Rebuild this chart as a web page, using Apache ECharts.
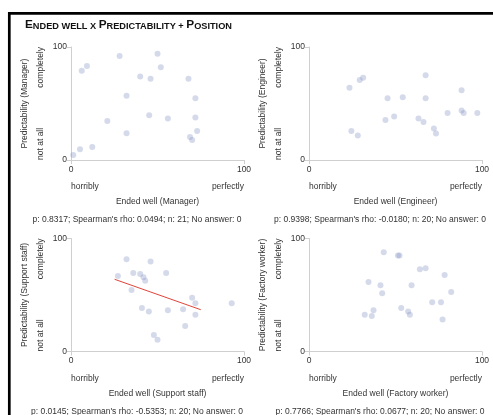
<!DOCTYPE html>
<html>
<head>
<meta charset="utf-8">
<script src="https://cdn.jsdelivr.net/npm/echarts@6/dist/echarts.min.js"></script>
<style>
html,body{margin:0;padding:0;background:#fff;}
#c{width:493px;height:415px;}
</style>
</head>
<body>
<div id="c"></div>
<script>
// ---- data ----
var positions = ['Manager', 'Engineer', 'Support staff', 'Factory worker'];
var statsText = [
  "p: 0.8317; Spearman's rho: 0.0494; n: 21; No answer: 0",
  "p: 0.9398; Spearman's rho: -0.0180; n: 20; No answer: 0",
  "p: 0.0145; Spearman's rho: -0.5353; n: 20; No answer: 0",
  "p: 0.7766; Spearman's rho: 0.0677; n: 20; No answer: 0"
];
var xTickValues = [0, 100];
var yTickValues = [0, 100];
var xLowLabel = 'horribly', xHighLabel = 'perfectly';
var yLowLabel = 'not at all', yHighLabel = 'completely';

var managerX = [1.3,5.2,12.3,6.2,9.2,28.1,32.1,21.0,32.1,40.0,46.0,50.0,51.9,45.2,56.0,67.9,71.9,71.9,72.9,68.8,70.0];
var managerY = [4.4,9.5,11.5,79.0,83.1,92.0,56.8,34.6,23.7,74.0,71.9,94.1,82.0,39.6,36.7,71.9,54.7,37.6,25.7,20.4,17.8];

var engineerX = [23.4,29.3,31.3,24.5,28.2,45.4,54.2,44.2,49.2,67.4,67.4,63.3,66.2,72.2,73.4,80.1,88.2,88.2,89.4,97.3];
var engineerY = [63.9,70.7,72.8,25.7,21.6,54.7,55.6,35.5,38.5,74.9,54.7,36.7,33.7,27.8,23.4,41.7,61.8,43.8,41.7,41.7];

var supportX = [27.1,32.1,36.0,35.0,40.0,41.9,42.9,46.0,55.0,41.0,45.0,56.0,47.9,50.0,64.8,70.0,71.9,71.9,66.0,92.9];
var supportY = [66.9,81.7,69.5,54.4,68.6,65.7,62.7,79.6,69.5,38.5,35.5,36.4,14.5,10.4,37.3,47.6,42.6,32.5,22.5,42.6];

var factoryX = [43.2,51.4,52.3,64.1,67.4,78.4,34.4,41.3,42.3,59.3,82.2,71.2,76.3,32.2,37.3,36.3,53.3,57.3,58.3,77.2];
var factoryY = [87.9,84.9,84.9,72.8,73.7,67.8,61.5,58.6,51.5,58.6,52.7,43.5,43.5,32.5,36.4,31.4,38.5,35.5,32.5,28.4];

// regression line for Support staff (endpoints)
var supportFitX = [25.2, 75.0];
var supportFitY = [63.9, 37.0];

// ---- layout ----
var FONT = 'Liberation Sans, Arial, Helvetica, sans-serif';
var FS = 8.5;
var TXT = '#333';
var AX = '#cfcfcf';
var panels = [
  {left: 71, top: 47, w: 173, h: 113, statsX: 137},
  {left: 309, top: 47, w: 173, h: 113, statsX: 380},
  {left: 71, top: 238.5, w: 173, h: 113, statsX: 137},
  {left: 309, top: 238.5, w: 173, h: 113, statsX: 380}
];
var xs = [managerX, engineerX, supportX, factoryX];
var ys = [managerY, engineerY, supportY, factoryY];

function zip(a, b) { return a.map(function (v, i) { return [v, b[i]]; }); }

var grids = [], xAxes = [], yAxes = [], series = [], graphics = [];
panels.forEach(function (p, i) {
  grids.push({left: p.left, top: p.top, width: p.w, height: p.h, containLabel: false});
  xAxes.push({
    type: 'value', gridIndex: i, min: xTickValues[0], max: xTickValues[1], interval: 100,
    axisLine: {show: true, lineStyle: {color: AX, width: 1}},
    axisTick: {show: true, length: 4, lineStyle: {color: AX}},
    axisLabel: {show: true, margin: 5, fontSize: FS, color: TXT, fontFamily: FONT},
    splitLine: {show: false}
  });
  yAxes.push({
    type: 'value', gridIndex: i, min: yTickValues[0], max: yTickValues[1], interval: 100,
    axisLine: {show: true, lineStyle: {color: AX, width: 1}},
    axisTick: {show: true, length: 4, lineStyle: {color: AX}},
    axisLabel: {show: true, margin: 4, fontSize: FS, color: TXT, fontFamily: FONT},
    splitLine: {show: false}
  });
  series.push({
    type: 'scatter', xAxisIndex: i, yAxisIndex: i, data: zip(xs[i], ys[i]),
    symbolSize: 6, itemStyle: {color: 'rgba(130,145,195,0.42)'}, silent: true
  });
  var bottom = p.top + p.h;
  var right = p.left + p.w;
  var tstyle = function (text, align, vAlign) {
    return {text: text, fontSize: FS, fontFamily: FONT, fill: TXT, align: align, verticalAlign: vAlign};
  };
  graphics.push({type: 'text', x: p.left, y: bottom + 27, style: tstyle(xLowLabel, 'left', 'middle')});
  graphics.push({type: 'text', x: right, y: bottom + 27, style: tstyle(xHighLabel, 'right', 'middle')});
  graphics.push({type: 'text', x: p.left + p.w / 2, y: bottom + 42, style: tstyle('Ended well (' + positions[i] + ')', 'center', 'middle')});
  graphics.push({type: 'text', x: p.statsX, y: bottom + 60, style: tstyle(statsText[i], 'center', 'middle')});
  graphics.push({type: 'text', x: p.left - 46, y: p.top + p.h / 2, rotation: Math.PI / 2,
    style: tstyle('Predictability (' + positions[i] + ')', 'center', 'middle')});
  graphics.push({type: 'text', x: p.left - 30, y: p.top, rotation: Math.PI / 2,
    style: tstyle(yHighLabel, 'right', 'middle')});
  graphics.push({type: 'text', x: p.left - 30, y: bottom, rotation: Math.PI / 2,
    style: tstyle(yLowLabel, 'left', 'middle')});
});

series.push({
  type: 'line', xAxisIndex: 2, yAxisIndex: 2, data: zip(supportFitX, supportFitY),
  showSymbol: false, symbol: 'none', lineStyle: {color: '#e0443a', width: 1}, silent: true, z: 1
});

// frame
graphics.push({type: 'rect', shape: {x: 9.3, y: 13.3, width: 700, height: 700},
  style: {fill: 'none', stroke: '#000', lineWidth: 2.7}, silent: true});
// title (small caps)
graphics.push({type: 'text', x: 25, y: 24, style: {
  text: '{a|E}{b|NDED WELL X }{a|P}{b|REDICTABILITY + }{a|P}{b|OSITION}',
  verticalAlign: 'middle', align: 'left',
  rich: {
    a: {fontSize: 11.8, fontWeight: 'bold', fontFamily: FONT, fill: '#111', verticalAlign: 'bottom', lineHeight: 13},
    b: {fontSize: 9.2, fontWeight: 'bold', fontFamily: FONT, fill: '#111', verticalAlign: 'bottom', lineHeight: 13}
  }
}});

var chart = echarts.init(document.getElementById('c'), null, {renderer: 'canvas'});
chart.setOption({
  animation: false,
  backgroundColor: '#fff',
  grid: grids,
  xAxis: xAxes,
  yAxis: yAxes,
  series: series,
  graphic: graphics
});
</script>
</body>
</html>
